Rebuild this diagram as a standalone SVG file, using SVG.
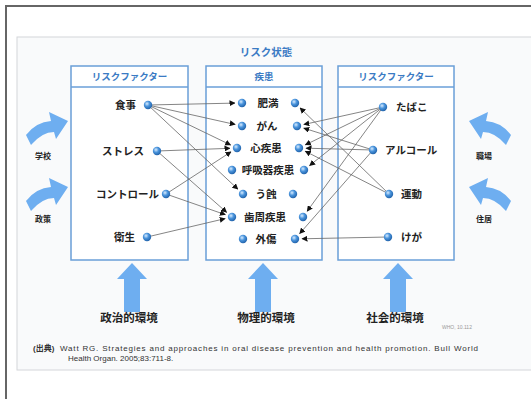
<svg xmlns="http://www.w3.org/2000/svg" width="531" height="399" viewBox="0 0 531 399">
<defs>
<radialGradient id="ball" cx="0.38" cy="0.35" r="0.7">
<stop offset="0" stop-color="#d8ecff"/>
<stop offset="0.45" stop-color="#4a94dc"/>
<stop offset="1" stop-color="#1d5ea6"/>
</radialGradient>
<marker id="ah" markerUnits="userSpaceOnUse" markerWidth="6" markerHeight="6" refX="5.5" refY="3" orient="auto">
<path d="M0,0 L6,3 L0,6 z" fill="#111"/>
</marker>
<path id="sideArrow" d="M26,135 Q36,122 51,121 L49,112 L68,121 L56,139 L54,132 Q42,132 31,145 Z"/>
<path id="upArrow" d="M0,0 L15,16 L8,16 L8,49 L-8,49 L-8,16 L-15,16 Z"/>
</defs>
<style>
.frame{fill:none;stroke:#666;stroke-width:2}
.slide{fill:#f9fafb;stroke:#d4d6da;stroke-width:1}
.box{fill:#ffffff;stroke:#6a9fd8;stroke-width:1.5}
.div{stroke:#6a9fd8;stroke-width:1.5}
.hdr{font-family:"Noto Sans CJK JP",sans-serif;font-weight:bold;font-size:9.5px;fill:#3b7bc4;text-anchor:middle}
.ttl{font-family:"Noto Sans CJK JP",sans-serif;font-weight:bold;font-size:10.5px;fill:#3b7bc4;text-anchor:middle}
.itm{font-family:"Noto Sans CJK JP",sans-serif;font-weight:bold;font-size:10.5px;fill:#222}
.env{font-family:"Noto Sans CJK JP",sans-serif;font-weight:bold;font-size:11.5px;fill:#222;text-anchor:middle}
.sml{font-family:"Noto Sans CJK JP",sans-serif;font-weight:bold;font-size:8px;fill:#222;text-anchor:middle}
.foot{font-family:"Liberation Sans","Noto Sans CJK JP",sans-serif;font-size:8px;fill:#333}
.tiny{font-family:"Liberation Sans",sans-serif;font-size:5px;fill:#999}
.dot{fill:url(#ball)}
.blue{fill:#6eaef0}
.conn line{stroke:#666;stroke-width:0.8;marker-end:url(#ah)}
</style>

<path class="frame" d="M6,399 L6,6 L531,6"/>
<rect class="slide" x="17" y="37" width="520" height="333"/>

<text class="ttl" x="266" y="56">リスク状態</text>

<g id="box-left">
<rect class="box" x="71" y="66" width="117" height="194"/>
<line class="div" x1="71" y1="87" x2="188" y2="87"/>
<text class="hdr" x="129.5" y="80">リスクファクター</text>
</g>
<g id="box-middle">
<rect class="box" x="206" y="66" width="116" height="194"/>
<line class="div" x1="206" y1="87" x2="322" y2="87"/>
<text class="hdr" x="264" y="80">疾患</text>
</g>
<g id="box-right">
<rect class="box" x="338" y="66" width="116" height="194"/>
<line class="div" x1="338" y1="87" x2="454" y2="87"/>
<text class="hdr" x="396" y="80">リスクファクター</text>
</g>

<g id="connectors" class="conn">
<line x1="148" y1="105" x2="235" y2="103.1"/>
<line x1="148" y1="105" x2="235.2" y2="124.5"/>
<line x1="148" y1="105" x2="230.7" y2="145"/>
<line x1="148" y1="105" x2="237.9" y2="189.2"/>
<line x1="157" y1="151" x2="230" y2="148.3"/>
<line x1="157" y1="151" x2="226.7" y2="212.4"/>
<line x1="166" y1="194" x2="231.1" y2="151.8"/>
<line x1="166" y1="194" x2="225.4" y2="214.7"/>
<line x1="147" y1="237" x2="225.2" y2="218.6"/>
<line x1="383" y1="107" x2="303.8" y2="124.5"/>
<line x1="383" y1="107" x2="305.3" y2="144.9"/>
<line x1="383" y1="107" x2="309.5" y2="165.6"/>
<line x1="383" y1="107" x2="307.1" y2="211.3"/>
<line x1="373" y1="150" x2="303.7" y2="128.1"/>
<line x1="373" y1="150" x2="306" y2="148.2"/>
<line x1="373" y1="150" x2="299.6" y2="233.7"/>
<line x1="389" y1="194" x2="300" y2="107.9"/>
<line x1="389" y1="194" x2="305.2" y2="151.2"/>
<line x1="388" y1="237" x2="302" y2="238.8"/>
</g>

<g id="rf-diet"><text class="itm" x="136" y="109" text-anchor="end">食事</text><circle class="dot" cx="148" cy="105" r="4.2"/></g>
<g id="rf-stress"><text class="itm" x="144" y="155" text-anchor="end">ストレス</text><circle class="dot" cx="157" cy="151" r="4.2"/></g>
<g id="rf-control"><text class="itm" x="159" y="198" text-anchor="end">コントロール</text><circle class="dot" cx="166" cy="194" r="4.2"/></g>
<g id="rf-hygiene"><text class="itm" x="135" y="241" text-anchor="end">衛生</text><circle class="dot" cx="147" cy="237" r="4.2"/></g>

<g id="d-obesity"><circle class="dot" cx="242" cy="103" r="4.2"/><text class="itm" x="268" y="107" text-anchor="middle">肥満</text><circle class="dot" cx="295" cy="103" r="4.2"/></g>
<g id="d-cancer"><circle class="dot" cx="242" cy="126" r="4.2"/><text class="itm" x="267" y="130" text-anchor="middle">がん</text><circle class="dot" cx="297" cy="126" r="4.2"/></g>
<g id="d-heart"><circle class="dot" cx="237" cy="148" r="4.2"/><text class="itm" x="266" y="152" text-anchor="middle">心疾患</text><circle class="dot" cx="299" cy="148" r="4.2"/></g>
<g id="d-resp"><circle class="dot" cx="232" cy="170" r="4.2"/><text class="itm" x="268" y="174" text-anchor="middle">呼吸器疾患</text><circle class="dot" cx="304" cy="170" r="4.2"/></g>
<g id="d-caries"><circle class="dot" cx="243" cy="194" r="4.2"/><text class="itm" x="266" y="198" text-anchor="middle">う蝕</text><circle class="dot" cx="293" cy="194" r="4.2"/></g>
<g id="d-perio"><circle class="dot" cx="232" cy="217" r="4.2"/><text class="itm" x="265" y="221" text-anchor="middle">歯周疾患</text><circle class="dot" cx="303" cy="217" r="4.2"/></g>
<g id="d-trauma"><circle class="dot" cx="243" cy="239" r="4.2"/><text class="itm" x="266" y="243" text-anchor="middle">外傷</text><circle class="dot" cx="295" cy="239" r="4.2"/></g>

<g id="rf-smoking"><circle class="dot" cx="383" cy="107" r="4.2"/><text class="itm" x="396" y="111">たばこ</text></g>
<g id="rf-alcohol"><circle class="dot" cx="373" cy="150" r="4.2"/><text class="itm" x="385" y="154">アルコール</text></g>
<g id="rf-exercise"><circle class="dot" cx="389" cy="194" r="4.2"/><text class="itm" x="401" y="198">運動</text></g>
<g id="rf-injury"><circle class="dot" cx="388" cy="237" r="4.2"/><text class="itm" x="401" y="241">けが</text></g>

<g id="env-school"><use href="#sideArrow" class="blue"/><text class="sml" x="43" y="159">学校</text></g>
<g id="env-policy"><use href="#sideArrow" class="blue" transform="translate(0,66)"/><text class="sml" x="43" y="222">政策</text></g>
<g id="env-work"><use href="#sideArrow" class="blue" transform="translate(537,0) scale(-1,1)"/><text class="sml" x="484" y="159">職場</text></g>
<g id="env-home"><use href="#sideArrow" class="blue" transform="translate(537,66) scale(-1,1)"/><text class="sml" x="484" y="222">住居</text></g>

<g id="env-political"><use href="#upArrow" class="blue" transform="translate(132,263)"/><text class="env" x="129" y="322">政治的環境</text></g>
<g id="env-physical"><use href="#upArrow" class="blue" transform="translate(263,263)"/><text class="env" x="266" y="322">物理的環境</text></g>
<g id="env-social"><use href="#upArrow" class="blue" transform="translate(398,263)"/><text class="env" x="395" y="322">社会的環境</text></g>

<text class="tiny" x="442" y="329">WHO, 10.112</text>

<text class="foot" x="33" y="351"><tspan font-weight="bold">(出典)</tspan><tspan x="60" textLength="418" lengthAdjust="spacing">Watt RG. Strategies and approaches in oral disease prevention and health promotion. Bull World</tspan></text>
<text class="foot" x="68" y="361">Health Organ. 2005;83:711-8.</text>
</svg>
